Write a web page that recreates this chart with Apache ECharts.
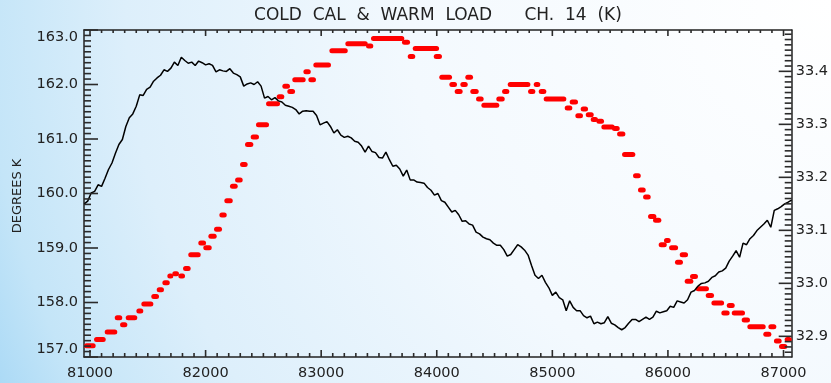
<!DOCTYPE html>
<html>
<head>
<meta charset="utf-8">
<script src="https://cdn.jsdelivr.net/npm/echarts@6.0.0/dist/echarts.min.js"></script>
<style>
  html, body { margin: 0; padding: 0; }
  #chart { width: 831px; height: 383px; }
</style>
</head>
<body>
<div id="chart"></div>
<script>
// Time axis (seconds) and temperature scales
const X_MIN = 80948, X_MAX = 87071;
const xTicks = [81000, 82000, 83000, 84000, 85000, 86000, 87000];
const LEFT_MIN = 157, LEFT_MAX = 163;
const leftTicks = [157, 158, 159, 160, 161, 162, 163];
const RIGHT_MIN = 32.861, RIGHT_MAX = 33.478;
const rightTicks = [32.9, 33.0, 33.1, 33.2, 33.3, 33.4];

// Cold calibration target temperature (K), sampled every 30 s from 80950
const coldStart = 80950, coldStep = 30;
const coldValues = [
  159.81, 159.86, 160.01, 160.04, 160.16, 160.13, 160.28, 160.44, 160.56, 160.74,
  160.90, 160.99, 161.23, 161.39, 161.46, 161.60, 161.81, 161.80, 161.91, 161.95,
  162.06, 162.12, 162.17, 162.27, 162.24, 162.30, 162.41, 162.35, 162.50, 162.44,
  162.39, 162.41, 162.35, 162.43, 162.40, 162.36, 162.38, 162.35, 162.23, 162.27,
  162.25, 162.24, 162.29, 162.21, 162.18, 162.14, 161.97, 162.01, 162.03, 162.00,
  162.05, 161.97, 161.75, 161.78, 161.72, 161.76, 161.70, 161.68, 161.62, 161.60,
  161.58, 161.54, 161.46, 161.51, 161.52, 161.51, 161.51, 161.43, 161.26, 161.29,
  161.32, 161.23, 161.11, 161.17, 161.07, 161.03, 161.05, 161.02, 160.96, 160.94,
  160.87, 160.76, 160.87, 160.77, 160.75, 160.66, 160.65, 160.76, 160.62, 160.50,
  160.52, 160.45, 160.32, 160.43, 160.25, 160.25, 160.21, 160.20, 160.19, 160.11,
  160.06, 159.97, 160.00, 159.87, 159.84, 159.75, 159.66, 159.69, 159.61, 159.49,
  159.50, 159.44, 159.42, 159.29, 159.26, 159.20, 159.17, 159.15, 159.09, 159.05,
  159.05, 158.97, 158.85, 158.88, 158.97, 159.06, 159.02, 158.96, 158.87, 158.68,
  158.50, 158.44, 158.50, 158.37, 158.27, 158.13, 158.19, 158.09, 158.05, 157.85,
  158.03, 157.91, 157.85, 157.85, 157.76, 157.72, 157.75, 157.61, 157.64, 157.61,
  157.63, 157.74, 157.62, 157.59, 157.54, 157.50, 157.54, 157.62, 157.69, 157.69,
  157.65, 157.69, 157.73, 157.69, 157.73, 157.84, 157.81, 157.83, 157.85, 157.93,
  157.91, 158.03, 158.01, 157.99, 158.05, 158.19, 158.22, 158.30, 158.35, 158.36,
  158.39, 158.46, 158.49, 158.56, 158.58, 158.63, 158.76, 158.85, 158.95, 158.83,
  159.09, 159.06, 159.17, 159.23, 159.32, 159.38, 159.44, 159.51, 159.38, 159.69,
  159.72, 159.76, 159.81, 159.84, 159.88
];

// Warm load temperature (K): quantised readings as runs [from, to, value]
const warmRuns = [
  [80948, 81049, 32.882], [81035, 81136, 32.894], [81127, 81236, 32.908],
  [81214, 81279, 32.935], [81260, 81323, 32.922], [81309, 81409, 32.935],
  [81401, 81461, 32.948], [81444, 81548, 32.961], [81530, 81597, 32.975],
  [81577, 81640, 32.988], [81626, 81690, 33.001], [81669, 81721, 33.014],
  [81712, 81770, 33.018], [81764, 81822, 33.014], [81805, 81871, 33.028],
  [81850, 81958, 33.054], [81937, 82004, 33.076], [81980, 82053, 33.067],
  [82024, 82096, 33.089], [82073, 82142, 33.102], [82119, 82183, 33.129],
  [82162, 82235, 33.156], [82211, 82278, 33.183], [82255, 82321, 33.195],
  [82298, 82364, 33.224], [82341, 82413, 33.262], [82390, 82462, 33.276],
  [82436, 82549, 33.299], [82523, 82644, 33.339], [82615, 82681, 33.352],
  [82664, 82730, 33.372], [82707, 82774, 33.362], [82750, 82866, 33.384],
  [82846, 82910, 33.399], [82889, 82955, 33.384], [82932, 83085, 33.412],
  [83071, 83230, 33.439], [83209, 83403, 33.452], [83388, 83451, 33.448],
  [83431, 83719, 33.462], [83699, 83769, 33.455], [83749, 83814, 33.428],
  [83792, 84020, 33.443], [83974, 84045, 33.428], [84022, 84132, 33.389],
  [84109, 84175, 33.375], [84155, 84224, 33.362], [84204, 84268, 33.375],
  [84247, 84314, 33.389], [84290, 84363, 33.362], [84340, 84406, 33.348],
  [84386, 84541, 33.336], [84515, 84588, 33.348], [84565, 84628, 33.362],
  [84614, 84810, 33.375], [84790, 84853, 33.362], [84839, 84896, 33.375],
  [84882, 84948, 33.362], [84925, 85121, 33.348], [85107, 85173, 33.331],
  [85150, 85222, 33.342], [85199, 85265, 33.316], [85245, 85309, 33.329],
  [85289, 85358, 33.318], [85332, 85395, 33.309], [85381, 85447, 33.306],
  [85424, 85540, 33.295], [85516, 85583, 33.292], [85560, 85632, 33.282],
  [85603, 85718, 33.243], [85698, 85765, 33.203], [85741, 85808, 33.176],
  [85785, 85851, 33.163], [85828, 85900, 33.126], [85871, 85943, 33.119],
  [85920, 85990, 33.073], [85966, 86024, 33.081], [86010, 86088, 33.067],
  [86061, 86130, 33.040], [86102, 86174, 33.054], [86145, 86220, 33.004],
  [86191, 86260, 33.013], [86240, 86355, 32.990], [86327, 86399, 32.977],
  [86376, 86486, 32.963], [86462, 86534, 32.944], [86509, 86578, 32.958],
  [86552, 86667, 32.944], [86638, 86710, 32.931], [86687, 86846, 32.918],
  [86825, 86895, 32.904], [86869, 86938, 32.918], [86917, 86984, 32.891],
  [86961, 87033, 32.881], [87010, 87071, 32.894]
];

(function () {
  // Tick marks: [value, 1 = labelled / 0 = minor]
  function tickList(lo, hi, step, digits, majors) {
    const out = [];
    const n = Math.round((hi - lo) / step);
    for (let k = 0; k <= n; k++) {
      const v = +(lo + k * step).toFixed(digits);
      out.push([v, majors.some(m => Math.abs(m - v) < step / 10) ? 1 : 0]);
    }
    return out;
  }
  const xTickMarks = tickList(81000, 87000, 100, 0, xTicks);
  const leftTickMarks = tickList(157, 163, 0.1, 1, leftTicks);
  const rightTickMarks = tickList(32.87, 33.47, 0.01, 2, rightTicks);

  const FONT = 'DejaVu Sans';
  const INK = '#222';
  const TICK_COLOR = '#2a2a2a';
  const TW = 1.6; // tick stroke thickness

  const plainAxis = {
    type: 'value',
    splitLine: { show: false },
    axisLine: { show: true, lineStyle: { color: '#222', width: 1.5 } },
    axisTick: { show: false }
  };

  const textGraphics = [
    {
      id: 'title', type: 'text', x: 438, y: 15.5,
      style: {
        text: 'COLD  CAL  &  WARM  LOAD      CH.  14  (K)',
        fill: INK, font: '17px "DejaVu Sans"', textAlign: 'center', textVerticalAlign: 'middle'
      }
    },
    {
      id: 'yname', type: 'text', x: 18, y: 196, rotation: Math.PI / 2,
      style: {
        text: 'DEGREES K', fill: INK, font: '13px "DejaVu Sans"',
        textAlign: 'center', textVerticalAlign: 'middle'
      }
    }
  ];

  const coldData = coldValues.map((v, i) => [coldStart + i * coldStep, v]);

  const chart = echarts.init(document.getElementById('chart'), null, { renderer: 'canvas' });
  chart.setOption({
    animation: false,
    backgroundColor: {
      type: 'radial', x: 831, y: 0, r: 940, global: true,
      colorStops: [
        { offset: 0, color: '#ffffff' },
        { offset: 0.45, color: '#f3f9fe' },
        { offset: 0.75, color: '#ddeffb' },
        { offset: 0.9, color: '#c4e5f8' },
        { offset: 1, color: '#a3d6f5' }
      ]
    },
    grid: { left: 84, right: 39, top: 30, height: 327 },
    graphic: textGraphics,
    xAxis: [
      Object.assign({}, plainAxis, {
        position: 'bottom', min: X_MIN, max: X_MAX,
        axisLabel: {
          customValues: xTicks, margin: 9, fontFamily: FONT, fontSize: 14.5, color: INK,
          formatter: v => String(v)
        }
      }),
      Object.assign({}, plainAxis, { position: 'top', min: X_MIN, max: X_MAX, axisLabel: { show: false } })
    ],
    yAxis: [
      Object.assign({}, plainAxis, {
        position: 'left', min: LEFT_MIN, max: LEFT_MAX,
        axisLabel: {
          customValues: leftTicks, margin: 6, fontFamily: FONT, fontSize: 14.5, color: INK,
          formatter: v => v.toFixed(1),
          verticalAlignMinLabel: 'bottom', verticalAlignMaxLabel: 'top'
        }
      }),
      Object.assign({}, plainAxis, {
        position: 'right', min: RIGHT_MIN, max: RIGHT_MAX,
        axisLabel: {
          customValues: rightTicks, margin: 4, fontFamily: FONT, fontSize: 14.5, color: INK,
          formatter: v => v.toFixed(1)
        }
      })
    ],
    series: [
      {
        type: 'custom', name: 'warm load',
        xAxisIndex: 0, yAxisIndex: 1,
        clip: true,
        data: warmRuns,
        renderItem: function (params, api) {
          const a = api.coord([api.value(0), api.value(2)]);
          const b = api.coord([api.value(1), api.value(2)]);
          const h = 5;
          return {
            type: 'rect',
            shape: { x: a[0], y: a[1] - h / 2, width: Math.max(b[0] - a[0], h), height: h, r: h / 2 },
            style: { fill: '#ff0000' }
          };
        },
        z: 2
      },
      {
        type: 'line', name: 'cold cal',
        xAxisIndex: 0, yAxisIndex: 0,
        data: coldData,
        showSymbol: false,
        symbol: 'none',
        clip: true,
        lineStyle: { color: '#000', width: 1.5 },
        z: 3
      }
    ]
  });

  // Inward tick marks on all four frame edges, placed through the axis scales
  function tickRect(x, y, w, h) {
    return { type: 'rect', z: 50, silent: true, shape: { x: x, y: y, width: w, height: h }, style: { fill: TICK_COLOR } };
  }
  const px = (axis, v) => chart.convertToPixel(axis, v);
  const edgeL = px({ xAxisIndex: 0 }, X_MIN);
  const edgeR = px({ xAxisIndex: 0 }, X_MAX);
  const edgeB = px({ yAxisIndex: 0 }, LEFT_MIN);
  const edgeT = px({ yAxisIndex: 0 }, LEFT_MAX);
  const tickGraphics = [];
  xTickMarks.forEach(([v, major]) => {
    const x = px({ xAxisIndex: 0 }, v);
    const lb = major ? 7 : 4, lt = major ? 6 : 3;
    tickGraphics.push(tickRect(x - TW / 2, edgeB - lb, TW, lb));
    tickGraphics.push(tickRect(x - TW / 2, edgeT, TW, lt));
  });
  leftTickMarks.forEach(([v, major]) => {
    const y = px({ yAxisIndex: 0 }, v);
    tickGraphics.push(tickRect(edgeL, y - TW / 2, major ? 14 : 7, TW));
  });
  rightTickMarks.forEach(([v, major]) => {
    const y = px({ yAxisIndex: 1 }, v);
    const len = major ? 13 : 7;
    tickGraphics.push(tickRect(edgeR - len, y - TW / 2, len, TW));
  });
  chart.setOption({ graphic: textGraphics.concat(tickGraphics) });
})();
</script>
</body>
</html>
